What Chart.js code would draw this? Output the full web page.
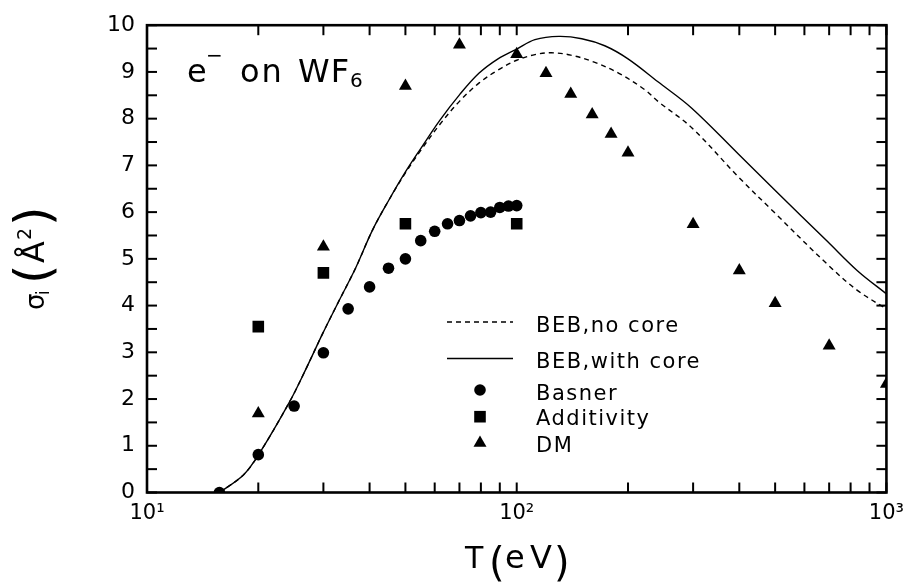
<!DOCTYPE html>
<html>
<head>
<meta charset="utf-8">
<script src="https://cdn.jsdelivr.net/npm/chart.js@4.4.0/dist/chart.umd.min.js"></script>
<style>
  html, body { margin: 0; padding: 0; background: #fff; }
  canvas { display: block; }
</style>
</head>
<body>
<canvas id="myChart" width="912" height="585"></canvas>
<script>
// electron energy T (eV) and ionization cross section (A^2)
const noCoreT = [15.7, 18.2, 20, 24.3, 26.9, 29.9, 33.1, 36.7, 40.7, 45.2, 50.1, 55, 62, 70, 79, 89, 100, 112, 124, 140, 162, 189, 222, 241, 297, 397, 498, 693, 836, 1000];
const noCoreSigma = [0, 0.37, 0.80, 1.94, 2.64, 3.41, 4.11, 4.81, 5.61, 6.27, 6.85, 7.32, 7.88, 8.37, 8.76, 9.04, 9.25, 9.37, 9.41, 9.36, 9.21, 8.97, 8.62, 8.37, 7.81, 6.76, 5.99, 4.88, 4.32, 3.93];

const withCoreT = [15.7, 18.2, 20, 24.3, 26.9, 29.9, 33.1, 36.7, 40.7, 45.2, 50.1, 55, 62, 70, 79, 89, 100, 112, 130, 150, 173, 200, 241, 297, 397, 498, 693, 836, 1000];
const withCoreSigma = [0, 0.37, 0.80, 1.94, 2.64, 3.41, 4.11, 4.81, 5.61, 6.27, 6.87, 7.36, 7.97, 8.51, 8.97, 9.28, 9.49, 9.69, 9.76, 9.71, 9.56, 9.28, 8.79, 8.23, 7.25, 6.48, 5.37, 4.74, 4.25];

const basnerT = [15.7, 20, 25, 30, 35, 40, 45, 50, 55, 60, 65, 70, 75, 80, 85, 90, 95, 100];
const basnerSigma = [0, 0.81, 1.85, 2.99, 3.93, 4.40, 4.80, 5.00, 5.39, 5.59, 5.75, 5.82, 5.92, 5.99, 6.00, 6.10, 6.13, 6.14];

const additivityT = [20, 30, 50, 100];
const additivitySigma = [3.55, 4.70, 5.75, 5.75];

const dmT = [20, 30, 50, 70, 100, 120, 140, 160, 180, 200, 300, 400, 500, 700, 1000];
const dmSigma = [1.69, 5.26, 8.70, 9.58, 9.38, 8.97, 8.53, 8.09, 7.67, 7.27, 5.74, 4.75, 4.05, 3.14, 2.32];

// axis ticks
const xTickMarks = [10, 20, 30, 40, 50, 60, 70, 80, 90, 100, 200, 300, 400, 500, 600, 700, 800, 900, 1000];
const xTickValues = [10, 100, 1000];
const xTickLabels = ["10\u00b9", "10\u00b2", "10\u00b3"];
const yTickMarks = [0, 0.5, 1, 1.5, 2, 2.5, 3, 3.5, 4, 4.5, 5, 5.5, 6, 6.5, 7, 7.5, 8, 8.5, 9, 9.5, 10];
const yTickLabels = ["0", "1", "2", "3", "4", "5", "6", "7", "8", "9", "10"];

const FONT = "'DejaVu Sans', sans-serif";

function pairs(xs, ys) {
  return xs.map((x, i) => ({ x: x, y: ys[i] }));
}

function txt(ctx, s, x, y, size, spacing) {
  ctx.font = size + "px " + FONT;
  ctx.letterSpacing = (spacing || 0) + "px";
  ctx.fillText(s, x, y);
}

// inward ticks on all four sides + frame
const framePlugin = {
  id: "frame",
  afterDraw(chart) {
    const c = chart.ctx;
    const s = chart.scales;
    const a = chart.chartArea;
    const len = 10;
    const w = 2;
    c.save();
    c.fillStyle = "#000";
    xTickMarks.forEach((v) => {
      const p = s.x.getPixelForValue(v);
      c.fillRect(p - w / 2, a.bottom - len, w, len);
      c.fillRect(p - w / 2, a.top, w, len);
    });
    yTickMarks.forEach((v) => {
      const p = s.y.getPixelForValue(v);
      c.fillRect(a.left, p - w / 2, len, w);
      c.fillRect(a.right - len, p - w / 2, len, w);
    });
    c.strokeStyle = "#000";
    c.setLineDash([]);
    c.lineWidth = 2.6;
    c.strokeRect(a.left, a.top, a.right - a.left, a.bottom - a.top);
    c.restore();
  },
};

// titles, annotation and legend
const textPlugin = {
  id: "texts",
  afterDraw(chart) {
    const ctx = chart.ctx;
    ctx.save();
    ctx.fillStyle = "#000";
    ctx.textBaseline = "alphabetic";
    ctx.textAlign = "left";

    // e- on WF6
    txt(ctx, "e", 187, 81.7, 32);
    txt(ctx, "\u2212", 206, 62, 20);
    txt(ctx, "on", 240, 81.7, 32, 2);
    txt(ctx, "WF", 298, 81.7, 32, 1);
    txt(ctx, "6", 350, 87, 20);

    // x title T(eV)
    txt(ctx, "T", 465, 568, 30);
    txt(ctx, "(", 489, 576, 40);
    txt(ctx, "e", 505, 568, 32);
    txt(ctx, "V", 530, 568, 32);
    txt(ctx, ")", 554, 576, 40);

    // y title sigma_i(A^2), rotated
    ctx.save();
    ctx.translate(44, 310);
    ctx.rotate(-Math.PI / 2);
    txt(ctx, "\u03c3", 0, 0, 26);
    txt(ctx, "i", 15, 5, 17);
    txt(ctx, "(", 26, 6, 50);
    txt(ctx, "\u00c5", 47, 0, 32);
    txt(ctx, "2", 70, -13, 19);
    txt(ctx, ")", 84, 6, 50);
    ctx.restore();

    // legend
    const ds = chart.data.datasets;
    const rows = [
      { y: 322, base: 331.7 },
      { y: 358.5, base: 368.3 },
      { y: 390, base: 400 },
      { y: 416.7, base: 425 },
      { y: 443, base: 451.7 },
    ];
    rows.forEach((r, i) => {
      const d = ds[i];
      if (d.showLine) {
        ctx.save();
        ctx.strokeStyle = d.borderColor;
        ctx.lineWidth = d.borderWidth;
        ctx.setLineDash(d.borderDash || []);
        ctx.beginPath();
        ctx.moveTo(447, r.y);
        ctx.lineTo(513, r.y);
        ctx.stroke();
        ctx.restore();
      } else {
        ctx.fillStyle = d.backgroundColor;
        const opts = { pointStyle: d.pointStyle, radius: d.pointRadius, rotation: 0, borderWidth: 0 };
        Chart.helpers.drawPoint(ctx, opts, 480, r.y);
      }
      ctx.fillStyle = "#000";
      txt(ctx, d.label, 536, r.base, 21, 1.5);
    });
    ctx.restore();
  },
};

function setup() {
  const ctx = document.getElementById("myChart").getContext("2d");
  new Chart(ctx, {
    type: "scatter",
    data: {
      datasets: [
        {
          type: "line",
          label: "BEB,no core",
          data: pairs(noCoreT, noCoreSigma),
          showLine: true,
          borderColor: "#000",
          borderWidth: 1.4,
          borderDash: [5, 4],
          pointRadius: 0,
          tension: 0.35,
          fill: false,
        },
        {
          type: "line",
          label: "BEB,with core",
          data: pairs(withCoreT, withCoreSigma),
          showLine: true,
          borderColor: "#000",
          borderWidth: 1.4,
          pointRadius: 0,
          tension: 0.35,
          fill: false,
        },
        {
          label: "Basner",
          data: pairs(basnerT, basnerSigma),
          pointStyle: "circle",
          pointRadius: 5.8,
          backgroundColor: "#000",
          borderWidth: 0,
        },
        {
          label: "Additivity",
          data: pairs(additivityT, additivitySigma),
          pointStyle: "rect",
          pointRadius: 8.2,
          backgroundColor: "#000",
          borderWidth: 0,
        },
        {
          label: "DM",
          data: pairs(dmT, dmSigma),
          pointStyle: "triangle",
          pointRadius: 7.5,
          backgroundColor: "#000",
          borderWidth: 0,
        },
      ],
    },
    options: {
      responsive: false,
      devicePixelRatio: 1,
      animation: false,
      events: [],
      layout: { padding: { left: 0, top: 16, right: 24, bottom: 0 } },
      plugins: { legend: { display: false }, tooltip: { enabled: false } },
      scales: {
        x: {
          type: "logarithmic",
          min: 10,
          max: 1000,
          grid: { display: false, drawTicks: false },
          border: { display: false },
          afterFit: (s) => { s.height = 92.5; },
          afterBuildTicks: (s) => { s.ticks = xTickValues.map((v) => ({ value: v })); },
          ticks: {
            autoSkip: false,
            maxRotation: 0,
            padding: 8,
            color: "#000",
            font: { family: FONT, size: 21 },
            callback: (v) => {
              const i = xTickValues.findIndex((t) => Math.abs(t - v) < 1e-6);
              return i >= 0 ? xTickLabels[i] : "";
            },
          },
        },
        y: {
          type: "linear",
          min: 0,
          max: 10,
          grid: { display: false, drawTicks: false },
          border: { display: false },
          afterFit: (s) => { s.width = 147; },
          ticks: {
            stepSize: 1,
            autoSkip: false,
            padding: 12,
            color: "#000",
            font: { family: FONT, size: 22 },
            callback: (v) => yTickLabels[v],
          },
        },
      },
    },
    plugins: [framePlugin, textPlugin],
  });
}

window.addEventListener("load", setup);
</script>
</body>
</html>
